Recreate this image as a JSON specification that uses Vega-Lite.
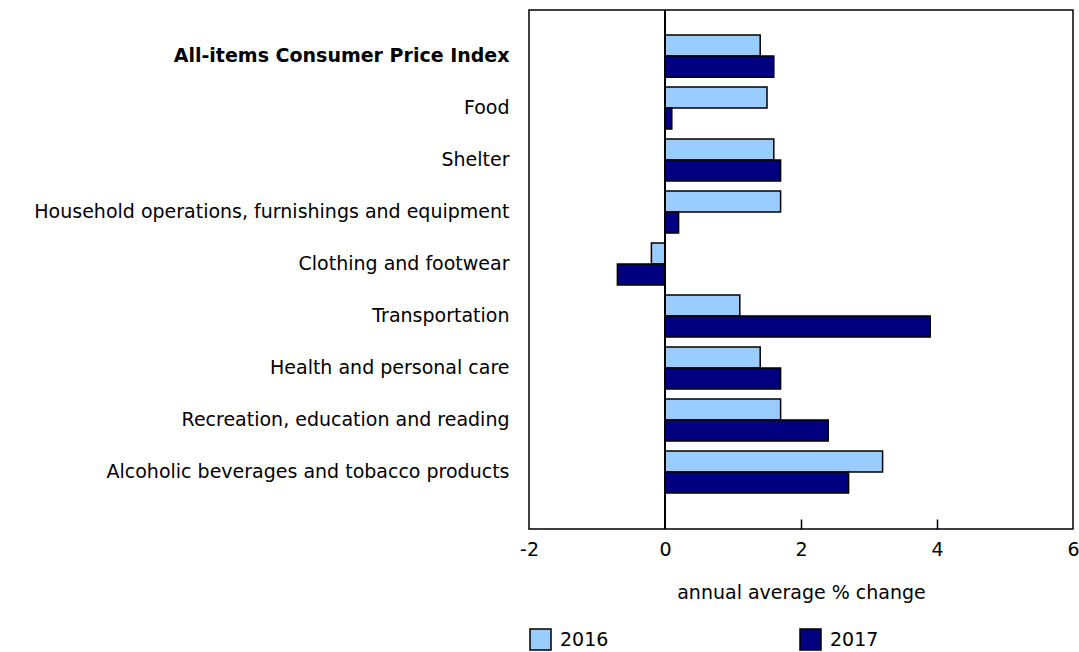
{
  "$schema": "https://vega.github.io/schema/vega-lite/v6.json",
  "autosize": "none",
  "width": 544,
  "height": 519,
  "padding": {"left": 529, "top": 10, "right": 6, "bottom": 123},
  "config": {
    "font": "DejaVu Sans",
    "view": {"stroke": "black", "strokeWidth": 1.5},
    "axis": {"labelColor": "black", "titleColor": "black", "labelFontSize": 19, "titleFontSize": 19, "titleFontWeight": "normal"},
    "legend": {"labelColor": "black", "labelFontSize": 19}
  },
  "data": {"values": [
    {"category": "All-items Consumer Price Index", "year": "2016", "value": 1.4},
    {"category": "All-items Consumer Price Index", "year": "2017", "value": 1.6},
    {"category": "Food", "year": "2016", "value": 1.5},
    {"category": "Food", "year": "2017", "value": 0.1},
    {"category": "Shelter", "year": "2016", "value": 1.6},
    {"category": "Shelter", "year": "2017", "value": 1.7},
    {"category": "Household operations, furnishings and equipment", "year": "2016", "value": 1.7},
    {"category": "Household operations, furnishings and equipment", "year": "2017", "value": 0.2},
    {"category": "Clothing and footwear", "year": "2016", "value": -0.2},
    {"category": "Clothing and footwear", "year": "2017", "value": -0.7},
    {"category": "Transportation", "year": "2016", "value": 1.1},
    {"category": "Transportation", "year": "2017", "value": 3.9},
    {"category": "Health and personal care", "year": "2016", "value": 1.4},
    {"category": "Health and personal care", "year": "2017", "value": 1.7},
    {"category": "Recreation, education and reading", "year": "2016", "value": 1.7},
    {"category": "Recreation, education and reading", "year": "2017", "value": 2.4},
    {"category": "Alcoholic beverages and tobacco products", "year": "2016", "value": 3.2},
    {"category": "Alcoholic beverages and tobacco products", "year": "2017", "value": 2.7}
  ]},
  "resolve": {"axis": {"x": "independent"}},
  "layer": [
    {
      "mark": {"type": "bar", "stroke": "black", "strokeWidth": 1.5},
      "encoding": {
        "y": {
          "field": "category", "type": "nominal", "sort": null,
          "scale": {"paddingInner": 0.19, "paddingOuter": 0.587, "align": 0.41},
          "axis": {
            "title": null, "ticks": false, "domain": false, "labelPadding": 20, "labelLimit": 600,
            "labelFontWeight": {"condition": {"test": "datum.value == 'All-items Consumer Price Index'", "value": "bold"}, "value": "normal"}
          }
        },
        "yOffset": {"field": "year", "type": "nominal", "scale": {"paddingInner": 0, "paddingOuter": 0}},
        "x": {
          "field": "value", "type": "quantitative",
          "scale": {"domain": [-2, 6], "nice": false, "zero": false},
          "axis": {"orient": "bottom", "title": "annual average % change", "values": [-2, 0, 2, 4, 6], "labelExpr": "'' + datum.value", "labelFlush": false, "grid": false, "domain": false, "ticks": false, "labelPadding": 11, "titlePadding": 24}
        },
        "color": {
          "field": "year", "type": "nominal",
          "scale": {"domain": ["2016", "2017"], "range": ["#99CCFF", "#000080"]},
          "legend": {
            "title": null, "orient": "none", "legendX": 0, "legendY": 618, "direction": "horizontal", "columns": 2,
            "columnPadding": 188, "padding": 0, "symbolType": "square", "symbolSize": 441,
            "symbolStrokeColor": "black", "symbolStrokeWidth": 1.5, "labelOffset": 8
          }
        }
      }
    },
    {
      "mark": {"type": "rule", "color": "black", "strokeWidth": 1.5},
      "encoding": {
        "x": {
          "datum": 0, "type": "quantitative",
          "axis": {"orient": "bottom", "title": null, "labels": false, "values": [2, 4], "grid": false, "domain": false, "ticks": true, "tickSize": 10, "tickColor": "black", "tickWidth": 1.5, "offset": -10}
        }
      }
    }
  ]
}
